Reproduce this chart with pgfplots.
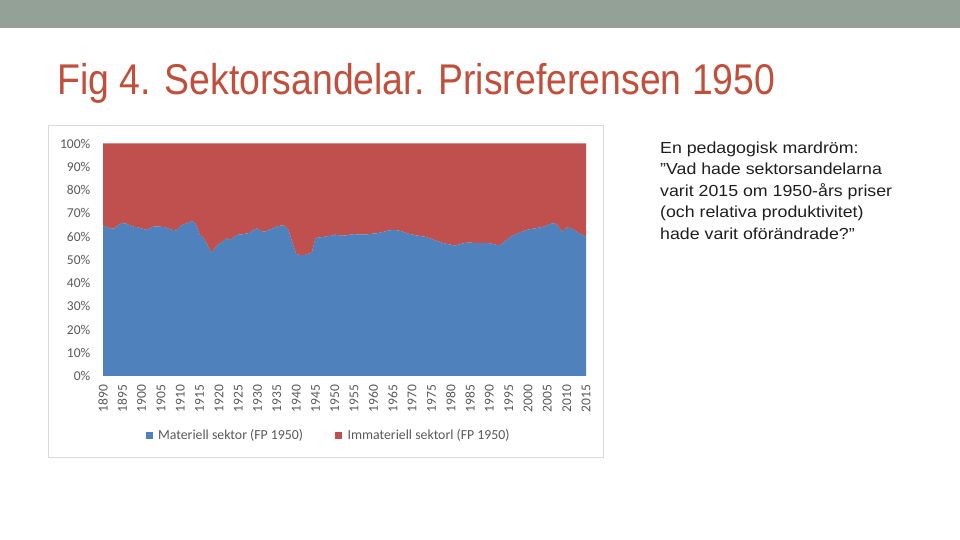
\documentclass[border=0pt]{standalone}
\usepackage{pgfplots}
\pgfplotsset{compat=1.18}
\usepackage{pgfplotstable}
\usepackage{fontspec}
\setmainfont{Liberation Sans}
\newfontfamily\calib{Carlito}
\definecolor{barGray}{RGB}{148,161,151}
\definecolor{titleRed}{RGB}{192,80,60}
\definecolor{matBlue}{RGB}{79,129,189}
\definecolor{immRed}{RGB}{192,80,77}
\definecolor{lblGray}{RGB}{89,89,89}
\definecolor{frameGray}{RGB}{217,217,217}
\pgfplotstableread{
year mat imm
1890 64.8 35.2
1891 64.0 36.0
1892 63.3 36.7
1893 63.5 36.5
1894 65.0 35.0
1895 65.8 34.2
1896 65.5 34.5
1897 64.8 35.2
1898 64.2 35.8
1899 64.0 36.0
1900 63.4 36.6
1901 63.0 37.0
1902 63.4 36.6
1903 64.2 35.8
1904 64.4 35.6
1905 64.2 35.8
1906 64.0 36.0
1907 63.3 36.7
1908 62.8 37.2
1909 62.6 37.4
1910 64.5 35.5
1911 65.3 34.7
1912 65.8 34.2
1913 66.7 33.3
1914 65.5 34.5
1915 61.0 39.0
1916 59.5 40.5
1917 56.5 43.5
1918 53.0 47.0
1919 55.0 45.0
1920 56.8 43.2
1921 57.8 42.2
1922 59.3 40.7
1923 58.5 41.5
1924 60.0 40.0
1925 60.8 39.2
1926 60.9 39.1
1927 61.3 38.7
1928 61.5 38.5
1929 63.0 37.0
1930 63.6 36.4
1931 62.0 38.0
1932 62.2 37.8
1933 62.9 37.1
1934 63.5 36.5
1935 64.3 35.7
1936 64.7 35.3
1937 64.6 35.4
1938 62.8 37.2
1939 57.5 42.5
1940 52.5 47.5
1941 52.0 48.0
1942 52.0 48.0
1943 52.5 47.5
1944 53.0 47.0
1945 59.3 40.7
1946 59.6 40.4
1947 59.8 40.2
1948 60.1 39.9
1949 60.3 39.7
1950 60.8 39.2
1951 60.6 39.4
1952 60.3 39.7
1953 60.5 39.5
1954 60.8 39.2
1955 61.0 39.0
1956 60.9 39.1
1957 60.8 39.2
1958 60.9 39.1
1959 61.0 39.0
1960 61.3 38.7
1961 61.4 38.6
1962 61.8 38.2
1963 62.2 37.8
1964 62.6 37.4
1965 62.8 37.2
1966 62.7 37.3
1967 62.4 37.6
1968 61.8 38.2
1969 61.2 38.8
1970 60.9 39.1
1971 60.5 39.5
1972 60.2 39.8
1973 60.0 40.0
1974 59.6 40.4
1975 59.0 41.0
1976 58.3 41.7
1977 57.8 42.2
1978 57.2 42.8
1979 56.8 43.2
1980 56.5 43.5
1981 56.0 44.0
1982 56.5 43.5
1983 57.0 43.0
1984 57.3 42.7
1985 57.4 42.6
1986 57.2 42.8
1987 57.3 42.7
1988 57.2 42.8
1989 57.2 42.8
1990 57.1 42.9
1991 56.8 43.2
1992 56.2 43.8
1993 56.5 43.5
1994 58.0 42.0
1995 59.2 40.8
1996 60.4 39.6
1997 61.0 39.0
1998 61.8 38.2
1999 62.4 37.6
2000 63.0 37.0
2001 63.3 36.7
2002 63.5 36.5
2003 63.9 36.1
2004 64.2 35.8
2005 64.8 35.2
2006 65.5 34.5
2007 65.8 34.2
2008 64.0 36.0
2009 62.0 38.0
2010 63.9 36.1
2011 63.6 36.4
2012 62.8 37.2
2013 61.6 38.4
2014 60.8 39.2
2015 60.0 40.0
}\datatable
\begin{document}
\begin{tikzpicture}[x=1pt,y=1pt]
\fill[white] (0,0) rectangle (960,540);
\fill[barGray] (0,512) rectangle (960,540);
\node[anchor=base west, inner sep=0pt, text=titleRed] at (57,445)
  {\scalebox{0.87}[1]{\fontsize{43}{48}\selectfont Fig 4. Sektorsandelar. Prisreferensen 1950}};
\node[anchor=north west, inner sep=0pt, text=black!88] at (660,402)
  {\scalebox{1.11}[1]{\fontsize{16}{21.5}\selectfont\begin{tabular}{@{}l@{}}En pedagogisk mardröm:\\”Vad hade sektorsandelarna\\varit 2015 om 1950-års priser\\(och relativa produktivitet)\\hade varit oförändrade?”\end{tabular}}};
\draw[frameGray, line width=1pt] (48.5,82) rectangle (603,414.5);
\begin{axis}[
  at={(103pt,164pt)}, anchor=south west,
  scale only axis, width=483pt, height=232.5pt,
  xmin=1890, xmax=2015, ymin=0, ymax=100,
  stack plots=y,
  axis line style={draw=none},
  major tick length=0pt,
  ytick={0,10,...,100},
  yticklabels={0\%,10\%,20\%,30\%,40\%,50\%,60\%,70\%,80\%,90\%,100\%},
  xtick={1890,1895,...,2015},
  xticklabels={1890,1895,1900,1905,1910,1915,1920,1925,1930,1935,1940,1945,1950,1955,1960,1965,1970,1975,1980,1985,1990,1995,2000,2005,2010,2015},
  yticklabel style={anchor=east, inner sep=12.5pt, font=\calib\fontsize{13.5}{15}\selectfont, text=lblGray},
  xticklabel style={rotate=90, anchor=east, inner sep=8.5pt, font=\calib\fontsize{13.5}{15}\selectfont, text=lblGray},
  legend columns=2,
  legend style={draw=none, fill=none, at={(0.467,-0.254)}, anchor=center,
    font=\calib\fontsize{13.8}{15}\selectfont, text=lblGray,
    /tikz/every odd column/.append style={column sep=3.5pt},
    /tikz/every even column/.append style={column sep=30pt}},
  legend image code/.code={\path[#1, draw=none] (0pt,-3.5pt) rectangle (7pt,3.5pt);},
]
\addplot[fill=matBlue, draw=none] table[x=year, y=mat] {\datatable} \closedcycle;
\addlegendentry{Materiell sektor (FP 1950)}
\addplot[fill=immRed, draw=none] table[x=year, y=imm] {\datatable} \closedcycle;
\addlegendentry{Immateriell sektorl (FP 1950)}
\end{axis}
\end{tikzpicture}
\end{document}
